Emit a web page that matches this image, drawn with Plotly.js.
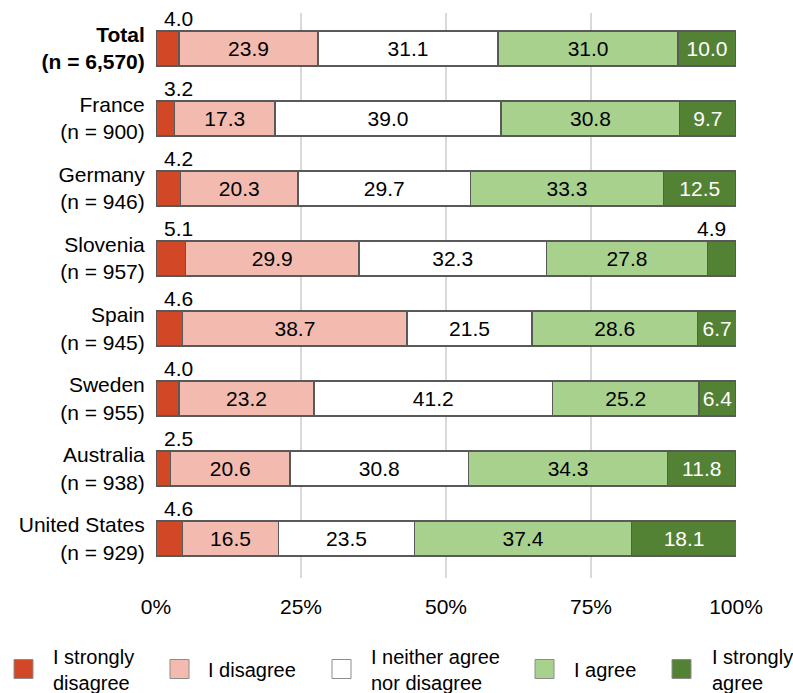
<!DOCTYPE html>
<html>
<head>
<meta charset="utf-8">
<script src="https://cdn.plot.ly/plotly-3.0.1.min.js"></script>
<style>html,body{margin:0;padding:0;background:#fff;}#chart{width:793px;height:693px;}</style>
</head>
<body>
<div id="chart"></div>
<script>
const categories = ["<b>Total</b><br><b>(n = 6,570)</b>", "France<br>(n = 900)", "Germany<br>(n = 946)", "Slovenia<br>(n = 957)", "Spain<br>(n = 945)", "Sweden<br>(n = 955)", "Australia<br>(n = 938)", "United States<br>(n = 929)"];
const seriesNames = ["I strongly<br>disagree", "I disagree", "I neither agree<br>nor disagree", "I agree", "I strongly<br>agree"];
const stronglyDisagree = [4.0, 3.2, 4.2, 5.1, 4.6, 4.0, 2.5, 4.6];
const disagree = [23.9, 17.3, 20.3, 29.9, 38.7, 23.2, 20.6, 16.5];
const neither = [31.1, 39.0, 29.7, 32.3, 21.5, 41.2, 30.8, 23.5];
const agree = [31.0, 30.8, 33.3, 27.8, 28.6, 25.2, 34.3, 37.4];
const stronglyAgree = [10.0, 9.7, 12.5, 4.9, 6.7, 6.4, 11.8, 18.1];
const tickVals = [0, 25, 50, 75, 100];
const tickLabels = ["0%", "25%", "50%", "75%", "100%"];

const colors = ["#D24827", "#F3BBAF", "#FFFFFF", "#A9D18E", "#548235"];
const textColors = ["#000", "#000", "#000", "#000", "#fff"];
const series = [stronglyDisagree, disagree, neither, agree, stronglyAgree];
const FONT = "Liberation Sans, Arial, sans-serif";
const FS = 21;
const LFS = 20;
const SMALL = 6;

// page geometry (pixels)
const W = 793, H = 693;
const M = {l: 156, r: 57, t: 13, b: 115};
const PW = W - M.l - M.r, PH = H - M.t - M.b;
const px2x = p => (p - M.l) / PW;
const px2y = p => (H - M.b - p) / PH;
// legend key positions (left edge of each swatch, px)
const legendSwatchLeft = [14, 170, 332, 535, 672];
const legendTextLeft = [52, 207, 370, 573, 711];
const legendCenterY = 669, swatch = 19;

const traces = [];
series.forEach((vals, i) => {
  traces.push({
    type: "bar",
    orientation: "h",
    name: seriesNames[i].replace("<br>", " "),
    y: categories,
    x: vals,
    width: 0.5,
    marker: {color: colors[i], line: {color: "#595959", width: 1.5}},
    text: vals.map(v => v >= SMALL ? v.toFixed(1) : ""),
    textposition: "inside",
    insidetextanchor: "middle",
    constraintext: "none",
    textfont: {family: FONT, size: FS, color: textColors[i]},
    hoverinfo: "x+name",
    showlegend: false
  });
});

const annotations = [];
stronglyDisagree.forEach((v, k) => {
  if (v < SMALL) annotations.push({x: 0, y: categories[k], xref: "x", yref: "y", text: v.toFixed(1), showarrow: false, xanchor: "left", yanchor: "middle", xshift: 6, yshift: 30, font: {family: FONT, size: FS, color: "#000"}});
});
stronglyAgree.forEach((v, k) => {
  if (v < SMALL) annotations.push({x: 100, y: categories[k], xref: "x", yref: "y", text: v.toFixed(1), showarrow: false, xanchor: "right", yanchor: "middle", xshift: -8, yshift: 30, font: {family: FONT, size: FS, color: "#000"}});
});

// legend (drawn as key swatches + labels)
const shapes = [];
seriesNames.forEach((name, i) => {
  shapes.push({type: "rect", xref: "paper", yref: "paper",
    x0: px2x(legendSwatchLeft[i]), x1: px2x(legendSwatchLeft[i] + swatch),
    y0: px2y(legendCenterY - swatch / 2), y1: px2y(legendCenterY + swatch / 2),
    fillcolor: colors[i], line: {color: "#8c8c8c", width: 1}, layer: "above"});
  annotations.push({xref: "paper", yref: "paper", x: px2x(legendTextLeft[i]), y: px2y(legendCenterY + 1),
    text: name, showarrow: false, xanchor: "left", yanchor: "middle", align: "left", borderpad: 0,
    font: {family: FONT, size: LFS, color: "#000"}});
});

const layout = {
  width: W, height: H,
  margin: M,
  barmode: "stack",
  paper_bgcolor: "#fff", plot_bgcolor: "#fff",
  font: {family: FONT, size: FS, color: "#000"},
  xaxis: {range: [0, 100], tickvals: tickVals, ticktext: tickLabels, showgrid: true, gridcolor: "#d9d9d9", gridwidth: 1.5, zeroline: false, showline: false, ticks: "outside", ticklen: 10, tickcolor: "rgba(0,0,0,0)", tickfont: {family: FONT, size: FS, color: "#000"}, fixedrange: true},
  yaxis: {type: "category", range: [7.564, -0.507], showgrid: false, zeroline: false, showline: false, ticks: "outside", ticklen: 6, tickcolor: "rgba(0,0,0,0)", tickfont: {family: FONT, size: FS, color: "#000"}, fixedrange: true},
  showlegend: false,
  shapes: shapes,
  annotations: annotations
};

Plotly.newPlot("chart", traces, layout, {displayModeBar: false, staticPlot: true});
</script>
</body>
</html>
